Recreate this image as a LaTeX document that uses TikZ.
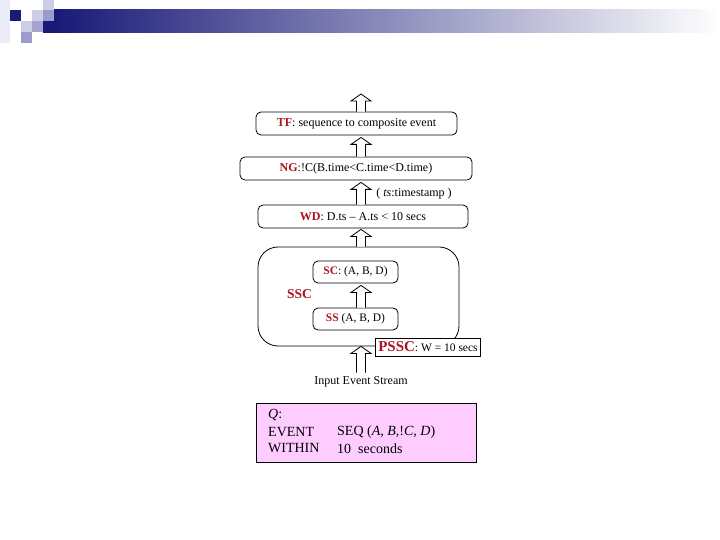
\documentclass[tikz,border=0pt]{standalone}
\usepackage{fontspec}
\setmainfont{Liberation Serif}
\usetikzlibrary{calc}
\definecolor{lblred}{RGB}{170,20,30}
\definecolor{navyd}{RGB}{25,25,120}
\definecolor{lav1}{RGB}{205,205,232}
\definecolor{lav2}{RGB}{155,155,205}
\definecolor{lav0}{RGB}{236,236,248}
\definecolor{qpink}{RGB}{255,204,255}
\tikzset{
  box/.style={draw=black, line width=0.8pt, rounded corners=5pt, fill=white, inner sep=0pt, font=\fontsize{12}{14}\selectfont},
  blockarrow/.style={draw=black, line width=0.8pt, fill=white},
  lbl/.style={inner sep=0pt, font=\fontsize{12}{14}\selectfont},
  qlbl/.style={inner sep=0pt, anchor=west, font=\fontsize{14}{16}\selectfont},
}
\newcommand\uparr[2]{%
  \draw[blockarrow] let \p1=#1, \p2=#2 in
   (\x1-4.5pt,\y1) -- (\x1-4.5pt,\y2-7pt) -- (\x1-10pt,\y2-7pt) -- (\x1,\y2)
   -- (\x1+10pt,\y2-7pt) -- (\x1+4.5pt,\y2-7pt) -- (\x1+4.5pt,\y1);}
\newcommand\rl[1]{\textcolor{lblred}{\textbf{#1}}}
\begin{document}
\begin{tikzpicture}[x=1pt,y=-1pt]
\useasboundingbox (0,0) rectangle (720,540);
% header decoration
\shade[left color=navyd, right color=white] (54,10) rectangle (720,33);
\fill[lav0] (0,0) rectangle (10,43);
\fill[navyd] (10,10) rectangle (21,21);
\fill[lav1] (21,21) rectangle (32,32);
\fill[lav2] (21,32) rectangle (32,43);
\fill[lav1] (32,10) rectangle (43,21);
\fill[lav2!80!lav1] (32,21) rectangle (43,32);
\fill[lav1] (43,0) rectangle (54,10);
\fill[lav2] (43,10) rectangle (54,21);
\fill[navyd] (43,21) rectangle (54,33);

\coordinate (ax) at (361,0);
\coordinate (toptip) at (361,94);

\node[box, minimum width=201pt, minimum height=23pt] (tf) at (356.5,123.5) {\rl{TF}: sequence to composite event};
\node[box, minimum width=232pt, minimum height=23pt] (ng) at (356,168.5) {\rl{NG}:!C(B.time<C.time<D.time)};
\node[lbl] (ts) at (414,194) {( \textit{ts}:timestamp )};
\node[box, minimum width=210pt, minimum height=23pt] (wd) at (363,216.5) {\rl{WD}: D.ts – A.ts < 10 secs};
\node[box, rounded corners=20pt, minimum width=201pt, minimum height=99pt] (ssc) at (358.5,296.5) {};
\node[box, minimum width=85pt, minimum height=22pt, font=\fontsize{11.5}{13}\selectfont] (sc) at (355.5,272) {\rl{SC}: (A, B, D)};
\node[box, minimum width=85pt, minimum height=22pt, font=\fontsize{11.5}{13}\selectfont] (ss) at (355.5,319) {\rl{SS} (A, B, D)};
\node[lbl, font=\fontsize{13.5}{15}\selectfont] (ssclbl) at (299.5,294) {\rl{SSC}};
\node[lbl] (input) at (361,382) {Input Event Stream};

\uparr{(tf.north -| ax)}{(toptip)}
\uparr{(ng.north -| ax)}{($(tf.south -| ax)+(0,2)$)}
\uparr{(wd.north -| ax)}{($(ng.south -| ax)+(0,2)$)}
\uparr{(ssc.north -| ax)}{($(wd.south -| ax)+(0,1)$)}
\uparr{(ss.north -| ax)}{($(sc.south -| ax)+(0,2)$)}
\uparr{($(input.north -| ax)+(0,-4)$)}{(ssc.south -| ax)}

\node[draw=black, line width=0.8pt, fill=white, inner sep=0pt, minimum width=105pt, minimum height=18pt, font=\fontsize{11.5}{13}\selectfont] (pssc) at (428,347) {\rl{\fontsize{15}{15}\selectfont PSSC}: W = 10 secs};

\node[draw=black, line width=0.9pt, fill=qpink, minimum width=220pt, minimum height=59pt, inner sep=0pt] (q) at (366,432.5) {};
\node[qlbl] (qq) at (268,415) {\textit{Q}:};
\node[qlbl] (qev) at (268,432) {EVENT};
\node[qlbl] (qwi) at (268,448.5) {WITHIN};
\node[qlbl] (qseq) at (337,432) {SEQ (\textit{A}, \textit{B},!\textit{C}, \textit{D})};
\node[qlbl] (qsec) at (337,448.5) {10\ \ seconds};
\end{tikzpicture}
\end{document}
